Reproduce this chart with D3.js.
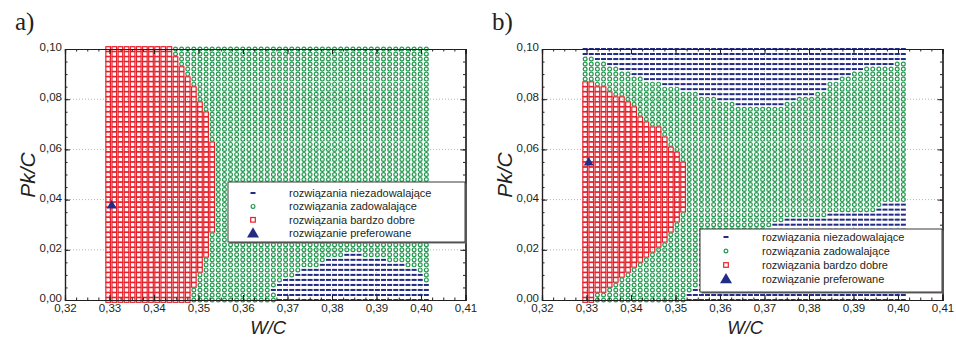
<!DOCTYPE html>
<html>
<head>
<meta charset="utf-8">
<script src="https://cdn.jsdelivr.net/npm/d3@7"></script>
<style>
  body { margin: 0; background: #fff; }
  svg { display: block; }
  text { font-family: "Liberation Sans", Arial, sans-serif; fill: #231f20; }
</style>
</head>
<body>
<svg id="chart" width="956" height="338"></svg>
<script>
// W/C sample grid (first column, last column, number of columns)
var wcRange = [0.3297, 0.4012];
var colCount = 53;

// Pk/C rows, top to bottom
var pkRows = [0.100, 0.098, 0.096, 0.094, 0.092, 0.090, 0.088, 0.086, 0.084, 0.082,
              0.080, 0.078, 0.076, 0.074, 0.072, 0.070, 0.068, 0.066, 0.064, 0.062,
              0.060, 0.058, 0.056, 0.054, 0.052, 0.050, 0.048, 0.046, 0.044, 0.042,
              0.040, 0.038, 0.036, 0.034, 0.032, 0.030, 0.028, 0.026, 0.024, 0.022,
              0.020, 0.018, 0.016, 0.014, 0.012, 0.010, 0.008, 0.006, 0.004, 0.002, 0.000];

// each row: runs of classes from left to right
// N = niezadowalajace, Z = zadowalajace, D = bardzo dobre
var rowsA = [
  "D11 Z42", "D11 Z42", "D12 Z41", "D12 Z41", "D13 Z40", "D13 Z40", "D14 Z39", "D14 Z39",
  "D15 Z38", "D15 Z38", "D15 Z38", "D16 Z37", "D16 Z37", "D17 Z36", "D17 Z36", "D17 Z36",
  "D17 Z36", "D17 Z36", "D17 Z36", "D18 Z35", "D18 Z35", "D18 Z35", "D18 Z35", "D18 Z35",
  "D18 Z35", "D18 Z35", "D18 Z35", "D18 Z35", "D18 Z35", "D18 Z35", "D18 Z35", "D18 Z35",
  "D18 Z35", "D18 Z35", "D18 Z35", "D18 Z35", "D18 Z35", "D17 Z36", "D17 Z36", "D17 Z36",
  "D17 Z36", "D17 Z22 N3 Z11", "D16 Z20 N10 Z7", "D16 Z19 N14 Z4", "D16 Z16 N19 Z2",
  "D15 Z16 N21 Z1", "D15 Z14 N23 Z1", "D15 Z13 N25", "D14 Z13 N26", "D14 Z14 N25", "D14 Z14 N25"
];

var rowsB = [
  "N53", "N53", "Z2 N51", "Z4 N47 Z2", "Z6 N40 Z7", "Z8 N36 Z9", "Z10 N32 Z11",
  "D2 Z11 N27 Z13", "D4 Z12 N24 Z13", "D5 Z14 N19 Z15", "D7 Z15 N13 Z18", "D8 Z17 N8 Z20",
  "D9 Z44", "D9 Z44", "D10 Z43", "D11 Z42", "D13 Z40", "D13 Z40", "D14 Z39", "D14 Z39",
  "D15 Z38", "D16 Z37", "D16 Z37", "D17 Z36", "D17 Z36", "D17 Z36", "D17 Z36", "D17 Z36",
  "D17 Z36", "D17 Z36", "D17 Z36", "D17 Z32 N4", "D17 Z31 N5", "D16 Z24 N13", "D16 Z17 N20",
  "D15 Z16 N22", "D15 Z15 N23", "D14 Z15 N24", "D14 Z14 N25", "D13 Z14 N26", "D12 Z14 N27",
  "D11 Z14 N28", "D10 Z14 N29", "D9 Z14 N30", "D8 Z14 N31", "D7 Z14 N32", "D6 Z14 N33",
  "D5 Z14 N34", "D4 Z14 N35", "D2 Z15 N36", "D2 Z15 N36"
];

// preferred solution [W/C, Pk/C]
var prefA = [0.3305, 0.0378];
var prefB = [0.3305, 0.0550];

var xTicks = [0.32, 0.33, 0.34, 0.35, 0.36, 0.37, 0.38, 0.39, 0.40, 0.41];
var yTicks = [0.00, 0.02, 0.04, 0.06, 0.08, 0.10];
var legendLabels = ["rozwiązania niezadowalające", "rozwiązania zadowalające",
                    "rozwiązania bardzo dobre", "rozwiązanie preferowane"];

var navy = "#232c85", green = "#23994f", red = "#e8202a";
var comma = function(v){ return d3.format(".2f")(v).replace(".", ","); };

var svg = d3.select("#chart");

function cells(rows){
  var colX = d3.scaleLinear().domain([0, colCount - 1]).range(wcRange);
  var out = [];
  rows.forEach(function(r, j){
    var c = 0;
    r.split(" ").forEach(function(run){
      var k = run[0], n = +run.slice(1);
      for (var i = 0; i < n; i++) { out.push({cls: k, x: colX(c), y: pkRows[j]}); c++; }
    });
  });
  return out;
}

function drawSymbol(g, cls, cx, cy, big){
  if (cls == "N") {
    g.append("rect").attr("x", cx - 2.5).attr("y", cy - 1).attr("width", 5).attr("height", 2)
      .attr("fill", navy);
  } else if (cls == "Z") {
    g.append("circle").attr("cx", cx).attr("cy", cy).attr("r", 1.9)
      .attr("fill", "none").attr("stroke", green).attr("stroke-width", 1.2);
  } else if (cls == "D") {
    g.append("rect").attr("x", cx - 2.3).attr("y", cy - 2.3).attr("width", 4.6).attr("height", 4.6)
      .attr("fill", "none").attr("stroke", red).attr("stroke-width", 1.2);
  } else {
    var s = big ? 6 : 5;
    g.append("path").attr("d", "M" + cx + "," + (cy - s) + "L" + (cx + s) + "," + (cy + s * 0.7) +
      "L" + (cx - s) + "," + (cy + s * 0.7) + "Z").attr("fill", navy);
  }
}

function panel(p){
  var x = d3.scaleLinear().domain([0.32, 0.41]).range([p.left, p.left + 400.5]);
  var y = d3.scaleLinear().domain([0, 0.10]).range([300, 49]);
  var g = svg.append("g");

  // dotted grid
  g.selectAll(".gy").data([0.02, 0.04, 0.06, 0.08]).enter().append("line")
    .attr("x1", x(0.32) - 4).attr("x2", x(0.41)).attr("y1", d => y(d)).attr("y2", d => y(d))
    .attr("stroke", "#b4b4b4").attr("stroke-width", 1).attr("stroke-dasharray", "1,2");
  g.selectAll(".gx").data([0.33, 0.34, 0.35, 0.36, 0.37, 0.38, 0.39, 0.40]).enter().append("line")
    .attr("y1", y(0)).attr("y2", y(0.10)).attr("x1", d => x(d)).attr("x2", d => x(d))
    .attr("stroke", "#c8c8c8").attr("stroke-width", 1).attr("stroke-dasharray", "1,2");

  // solution grid
  var gm = g.append("g");
  cells(p.rows).forEach(function(d){ drawSymbol(gm, d.cls, x(d.x), y(d.y)); });
  drawSymbol(gm, "P", x(p.pref[0]), y(p.pref[1]), false);

  // axes, ticks pointing inside
  var minorX = d3.range(0.32, 0.4101, 0.0025), minorY = d3.range(0, 0.1001, 0.005);
  g.append("g").attr("transform", "translate(0,300)")
    .call(d3.axisBottom(x).tickValues(minorX).tickSize(-2.5).tickFormat(""));
  g.append("g").attr("transform", "translate(0,300)")
    .call(d3.axisBottom(x).tickValues(xTicks).tickSize(-5).tickPadding(4).tickFormat(comma));
  g.append("g").attr("transform", "translate(0,49)")
    .call(d3.axisTop(x).tickValues(minorX).tickSize(-2.5).tickFormat(""));
  g.append("g").attr("transform", "translate(0,49)")
    .call(d3.axisTop(x).tickValues(xTicks).tickSize(-5).tickFormat(""));
  g.append("g").attr("transform", "translate(" + x(0.32) + ",0)")
    .call(d3.axisLeft(y).tickValues(minorY).tickSize(-2.5).tickFormat(""));
  g.append("g").attr("class", "yl").attr("transform", "translate(" + x(0.32) + ",0)")
    .call(d3.axisLeft(y).tickValues(yTicks).tickSize(-5).tickPadding(3).tickFormat(comma));
  g.append("g").attr("transform", "translate(" + x(0.41) + ",0)")
    .call(d3.axisRight(y).tickValues(minorY).tickSize(-2.5).tickFormat(""));
  g.append("g").attr("transform", "translate(" + x(0.41) + ",0)")
    .call(d3.axisRight(y).tickValues(yTicks).tickSize(-5).tickFormat(""));
  g.selectAll(".domain").attr("stroke", "#231f20").attr("stroke-width", 1.2);
  g.selectAll(".tick line").attr("stroke", "#231f20");
  g.selectAll(".tick text").attr("font-size", 11.5).attr("font-family", "Liberation Sans, Arial, sans-serif");
  g.selectAll(".yl .tick text").attr("dy", "0.15em");

  // titles
  g.append("text").attr("x", (x(0.32) + x(0.41)) / 2 + 3).attr("y", 333.5).attr("text-anchor", "middle")
    .attr("font-size", 18.5).attr("font-style", "italic").text("W/C");
  g.append("text").attr("transform", "translate(" + (p.left - 30) + ",175) rotate(-90)")
    .attr("text-anchor", "middle").attr("font-size", 21).attr("font-style", "italic").text("Pk/C");
  g.append("text").attr("x", p.left - 50).attr("y", 30).attr("font-size", 25)
    .style("font-family", "Liberation Serif, serif").text(p.tag);

  // legend
  var L = p.legend;
  var lg = g.append("g");
  lg.append("rect").attr("x", L.x + 1.5).attr("y", L.y + 1.5).attr("width", L.w).attr("height", L.h)
    .attr("fill", "#6d6d6d");
  lg.append("rect").attr("x", L.x).attr("y", L.y).attr("width", L.w).attr("height", L.h)
    .attr("fill", "#fff").attr("stroke", "#3a3a3a").attr("stroke-width", 1);
  ["N", "Z", "D", "P"].forEach(function(k, i){
    var cy = L.y + L.first + i * L.step;
    drawSymbol(lg, k, L.x + L.sym, cy, true);
    lg.append("text").attr("x", L.x + L.txt).attr("y", cy + 4).attr("font-size", 11).text(legendLabels[i]);
  });
}

panel({left: 65, rows: rowsA, pref: prefA, tag: "a)",
       legend: {x: 228, y: 182, w: 237, h: 60, sym: 25, txt: 61, first: 11, step: 13.4}});
panel({left: 542, rows: rowsB, pref: prefB, tag: "b)",
       legend: {x: 700, y: 229, w: 242, h: 63, sym: 26, txt: 62, first: 8, step: 14}});
</script>
</body>
</html>
